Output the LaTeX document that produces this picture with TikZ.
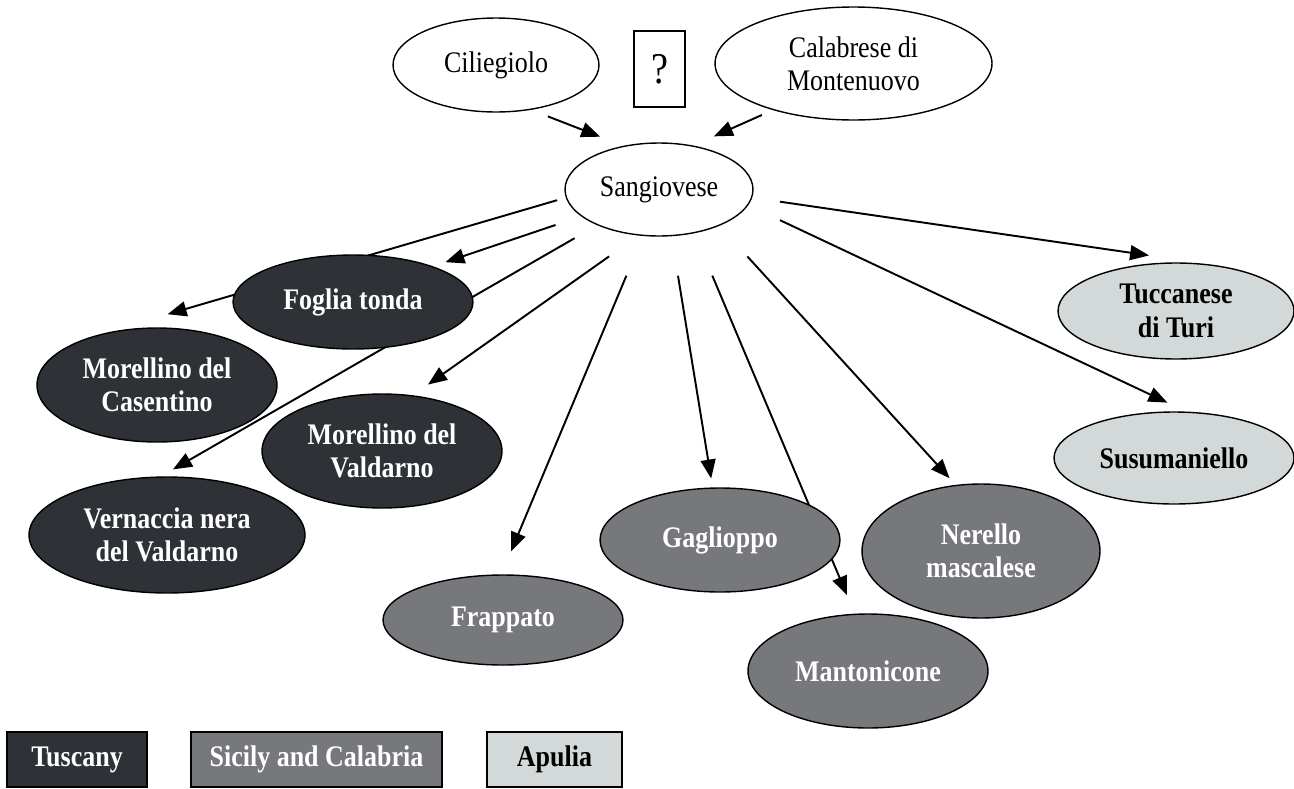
\documentclass[tikz,border=0pt]{standalone}
\usepackage{fontspec}
\setmainfont{Liberation Serif}[FakeStretch=0.87]
\usetikzlibrary{shapes.geometric,arrows.meta,backgrounds}
\definecolor{tuscany}{HTML}{2E3135}
\definecolor{sicily}{HTML}{76787B}
\definecolor{apulia}{HTML}{D3D8D8}
\begin{document}
\begin{tikzpicture}[x=0.02cm, y=-0.02cm,
  every node/.style={font=\fontsize{17}{19}\selectfont, align=center, inner sep=0pt},
  grape/.style={ellipse, draw, line width=0.8pt},
  parent/.style={grape, fill=white},
  tus/.style={grape, fill=tuscany, text=white, font=\fontsize{17}{19}\selectfont\bfseries},
  sic/.style={grape, fill=sicily, text=white, font=\fontsize{17}{19}\selectfont\bfseries},
  apu/.style={grape, fill=apulia, text=black, font=\fontsize{17}{19}\selectfont\bfseries},
  key/.style={rectangle, draw, line width=0.8pt, minimum height=1.1cm, font=\fontsize{17}{19}\selectfont\bfseries},
  arr/.style={-{Triangle[length=0.38cm,width=0.3cm]}, line width=1.1pt}]
\useasboundingbox (0,0) rectangle (1294,788);
%parents:
\node[parent, minimum width=4.12cm, minimum height=1.88cm] (cil) at (496,65) {Ciliegiolo};
\node[draw, line width=0.8pt, fill=white, minimum width=1.02cm, minimum height=1.52cm, font=\fontsize{25}{27}\selectfont] (unknown) at (659.5,69) {?};
\node[parent, minimum width=5.54cm, minimum height=2.26cm] (cal) at (853.5,63.5) {Calabrese di\\Montenuovo};
\node[parent, minimum width=3.76cm, minimum height=1.86cm] (sang) at (659,189.5) {Sangiovese};
%Tuscany:
\node[tus, minimum width=4.8cm, minimum height=1.88cm] (foglia) at (353,302) {Foglia tonda};
\node[tus, minimum width=4.8cm, minimum height=2.28cm] (casentino) at (157,385) {Morellino del\\Casentino};
\node[tus, minimum width=4.8cm, minimum height=2.28cm] (valdarno) at (382,451) {Morellino del\\Valdarno};
\node[tus, minimum width=5.52cm, minimum height=2.32cm] (vernaccia) at (167,535) {Vernaccia nera\\del Valdarno};
%Sicily and Calabria:
\node[sic, minimum width=4.8cm, minimum height=1.8cm] (frappato) at (503,620) {Frappato};
\node[sic, minimum width=4.8cm, minimum height=2.08cm] (gaglioppo) at (720,540) {Gaglioppo};
\node[sic, minimum width=4.8cm, minimum height=2.28cm] (mantonicone) at (868,671) {Mantonicone};
\node[sic, minimum width=4.76cm, minimum height=2.68cm] (nerello) at (981,551) {Nerello\\mascalese};
%Apulia:
\node[apu, minimum width=4.72cm, minimum height=1.92cm] (tuccanese) at (1176,311) {Tuccanese\\di Turi};
\node[apu, minimum width=4.8cm, minimum height=1.84cm] (susumaniello) at (1174,458) {Susumaniello};
%arrows:
\begin{scope}[on background layer]
\draw[arr, shorten <=0.36cm, shorten >=0.5cm] (cil.308.5) -- (sang.129.5);
\draw[arr, shorten <=0.24cm, shorten >=0.45cm] (cal.210.8) -- (sang.52.6);
\draw[arr, shorten <=0.18cm, shorten >=1.5cm] (sang.185.3) -- (casentino.141);
\draw[arr, shorten <=0.54cm, shorten >=0.26cm] (sang.199.6) -- (foglia.24.7);
\draw[arr, shorten <=0.52cm, shorten >=0.28cm] (sang.210.7) -- (vernaccia.96);
\draw[arr, shorten <=0.72cm, shorten >=0.37cm] (sang.246.8) -- (valdarno.61.5);
\draw[arr, shorten <=0.86cm, shorten >=0.5cm] (sang.251.5) -- (frappato.92);
\draw[arr, shorten <=0.8cm, shorten >=0.18cm] (sang.285.3) -- (gaglioppo.98.2);
\draw[arr, shorten <=0.92cm, shorten >=0.4cm] (sang.309) -- (mantonicone.103.3);
\draw[arr, shorten <=0.83cm, shorten >=0.18cm] (sang.329) -- (nerello.111);
\draw[arr, shorten <=0.7cm, shorten >=0.42cm] (sang.350.6) -- (susumaniello.75.5);
\draw[arr, shorten <=0.56cm, shorten >=1.3cm] (sang.355.9) -- (tuccanese.51.9);
\end{scope}
%legend:
\node[key, fill=tuscany, text=white, minimum width=2.8cm] (keytus) at (77,759.5) {Tuscany};
\node[key, fill=sicily, text=white, minimum width=5.02cm] (keysic) at (316.5,759.5) {Sicily and Calabria};
\node[key, fill=apulia, text=black, minimum width=2.7cm] (keyapu) at (554.5,759.5) {Apulia};
\end{tikzpicture}
\end{document}
